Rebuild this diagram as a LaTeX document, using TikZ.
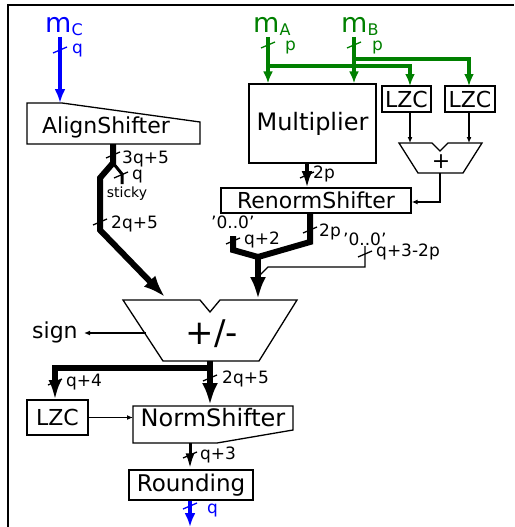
\documentclass[tikz,border=0pt]{standalone}
\usepackage{fontspec}
\setmainfont{DejaVu Sans}
\usetikzlibrary{arrows.meta}
\newcommand\fbig{\fontsize{22}{26}\selectfont}
\newcommand\fbigb{\fontsize{24}{28}\selectfont}
\newcommand\flbl{\fontsize{17}{20}\selectfont}
\newcommand\fsml{\fontsize{14}{16}\selectfont}
\newcommand\fm{\fontsize{27}{29}\selectfont}
\newcommand\fsub{\fontsize{16}{18}\selectfont}
\definecolor{mblue}{RGB}{0,0,255}
\definecolor{mgreen}{RGB}{0,128,0}
\newcommand\bustick[3][]{\draw[tk,#1] (#2,#3) ++(-7,3) -- ++(14,-6);}
\begin{document}
\begin{tikzpicture}[x=1pt,y=-1pt,
  lbl/.style={font=\flbl, inner sep=0pt, anchor=base west},
  txt/.style={font=\fbig, inner sep=0pt},
  boxn/.style={draw, line width=1.3pt, inner sep=0pt, font=\fbig},
  shp/.style={draw, line width=1.3pt, line join=miter},
  bus/.style={line width=6pt},
  thinw/.style={line width=1.3pt},
  tk/.style={line width=1.3pt},
  bigtip/.style={-{Latex[length=22pt,width=16pt]}},
  midtip/.style={-{Latex[length=17pt,width=11pt]}},
  smtip/.style={-{Latex[length=6pt,width=5pt]}},
  bluel/.style={mblue, line width=3.5pt, -{Latex[length=14pt,width=11pt]}},
  greenl/.style={mgreen, line width=3.3pt},
  greentip/.style={-{Latex[length=12pt,width=10pt]}}
]
\useasboundingbox (0,0) rectangle (514,527);
\draw[line width=2pt] (8,527) -- (8,5) -- (514,5);

% ---------- inputs
\node[lbl, font=\fm, text=mblue] (mc) at (45,33) {m\raisebox{-2.5pt}{\fsub C}};
\node[lbl, font=\fm, text=mgreen] (ma) at (253,33) {m\raisebox{-2.5pt}{\fsub A}};
\node[lbl, font=\fm, text=mgreen] (mb) at (341,33) {m\raisebox{-2.5pt}{\fsub B}};
\coordinate (mcbot) at (60,37);
\coordinate (mabot) at (268,37);
\coordinate (mbbot) at (354,37);

% ---------- AlignShifter
\draw[shp] (27,103) -- (62,103) -- (200,122) -- (200,144) -- (27,144) -- cycle;
\node[txt] (align) at (106,127) {AlignShifter};
\coordinate (alignin) at (60,103);
\coordinate (alignout) at (113,144);

% ---------- Multiplier and LZCs
\node[boxn, font=\fbigb, minimum width=127pt, minimum height=79pt] (mult) at (312.5,123.5) {Multiplier};
\node[boxn, minimum width=49pt, minimum height=26pt] (lzca) at (406.5,99) {LZC};
\node[boxn, minimum width=50pt, minimum height=26pt] (lzcb) at (470,99) {LZC};

% ---------- adder
\draw[shp] (399,143) -- (432,143) -- (440,151) -- (448,143) -- (482,143) -- (463,173) -- (418,173) -- cycle;
\node[txt] (adder) at (441,162) {+};

% ---------- RenormShifter
\node[boxn, minimum width=190pt, minimum height=25pt] (renorm) at (316,200.5) {RenormShifter};

% ---------- +/- 
\draw[shp] (123,300) -- (200,300) -- (210,312) -- (220,300) -- (297,300) -- (259,361) -- (163,361) -- cycle;
\node[inner sep=0pt, font=\fontsize{34}{38}\selectfont] (addsub) at (212,334) {+/-};
\node[lbl, font=\fbig] (sign) at (32,338) {sign};

% ---------- lower part
\node[boxn, minimum width=61pt, minimum height=35pt] (lzcc) at (57.5,417.5) {LZC};
\draw[shp] (133,406) -- (293,406) -- (293,430) -- (217,443) -- (133,443) -- cycle;
\node[txt, font=\fbigb] (norm) at (213,418) {NormShifter};
\node[boxn, font=\fontsize{23}{27}\selectfont, minimum width=124pt, minimum height=30pt] (round) at (191,485) {Rounding};
\coordinate (outend) at (190,527);

% ---------- green inputs
\draw[greenl, greentip] (mabot) -- (mabot |- mult.north);
\draw[greenl, greentip] (mbbot) -- (mbbot |- mult.north);
\draw[greenl, greentip] (268,66) -- (410,66) -- (410,86);
\draw[greenl, greentip] (354,59) -- (469,59) -- (469,86);
\bustick[mgreen]{268}{45}
\bustick[mgreen]{354}{45}
\node[lbl, text=mgreen] (pa) at (285,51) {p};
\node[lbl, text=mgreen] (pb) at (372,51) {p};

% ---------- blue input
\draw[bluel] (mcbot) -- (alignin);
\bustick[mblue]{60}{50}
\node[lbl, text=mblue] (qc) at (72,54) {q};

% ---------- AlignShifter output
\draw[bus, bigtip] (alignout) -- (113,163) -- (100,178) -- (100,230) -- (165,297);
\draw[line width=3pt] (113,163) -- (122,174) -- (122,184);
\bustick{113}{155}
\node[lbl] (l3q) at (122,163) {3q+5};
\bustick{121}{175}
\node[lbl] (lq) at (132,179) {q};
\node[font=\fsml, inner sep=0pt, anchor=base] (sticky) at (127,197) {sticky};
\bustick{100}{222}
\node[lbl] (l2q) at (111,228) {2q+5};

% ---------- LZC -> adder -> renorm
\draw[thinw, smtip] (410,112) -- (410,143);
\draw[thinw, smtip] (469,112) -- (469,143);
\draw[thinw, smtip] (440,173) -- (440,202) -- (renorm.east |- 440,202);

% ---------- multiplier -> renorm
\draw[line width=4pt, midtip] (307,163) -- (307,188);
\bustick{307}{175}
\node[lbl] (l2p) at (313,178) {2p};

% ---------- renorm -> +/-
\draw[bus, line join=miter] (310,213) -- (310,242) -- (258,257);
\draw[bus, line join=miter] (233,236) -- (233,250) -- (258,257);
\draw[bus, bigtip] (258,255) -- (258,299);
\draw[thinw] (365,246) -- (365,267) -- (268,267) -- (259,276);
\node[lbl] (z1) at (211,228) {'0..0'};
\bustick{233}{241}
\node[lbl] (lq2) at (244,244) {q+2};
\bustick{310}{230}
\node[lbl] (l2p2) at (319,236) {2p};
\node[lbl] (z2) at (343,245) {'0..0'};
\bustick{365}{254}
\node[lbl] (lq32) at (376,256) {q+3-2p};

% ---------- sign
\draw[thinw, smtip] (146,333) -- (84,333);

% ---------- +/- outputs
\draw[bus, -{Latex[length=20pt,width=13pt]}] (210,361) -- (210,368) -- (55,368) -- (55,400);
\draw[bus, bigtip] (210,361) -- (210,405);
\bustick{55}{382}
\node[lbl] (lq4) at (66,386) {q+4};
\bustick{210}{378}
\node[lbl] (l2q2) at (222,383) {2q+5};

% ---------- LZC -> norm -> rounding -> out
\draw[thinw, smtip] (lzcc.east) -- (133,417.5);
\draw[line width=3pt, -{Latex[length=16pt,width=9pt]}] (190,443) -- (round.north -| 190,443);
\bustick{190}{455}
\node[lbl] (lq3) at (200,459) {q+3};
\draw[bluel] (round.south -| 190,500) -- (outend);
\bustick[mblue]{190}{506}
\node[lbl, text=mblue] (qout) at (207,513) {q};
\end{tikzpicture}
\end{document}
